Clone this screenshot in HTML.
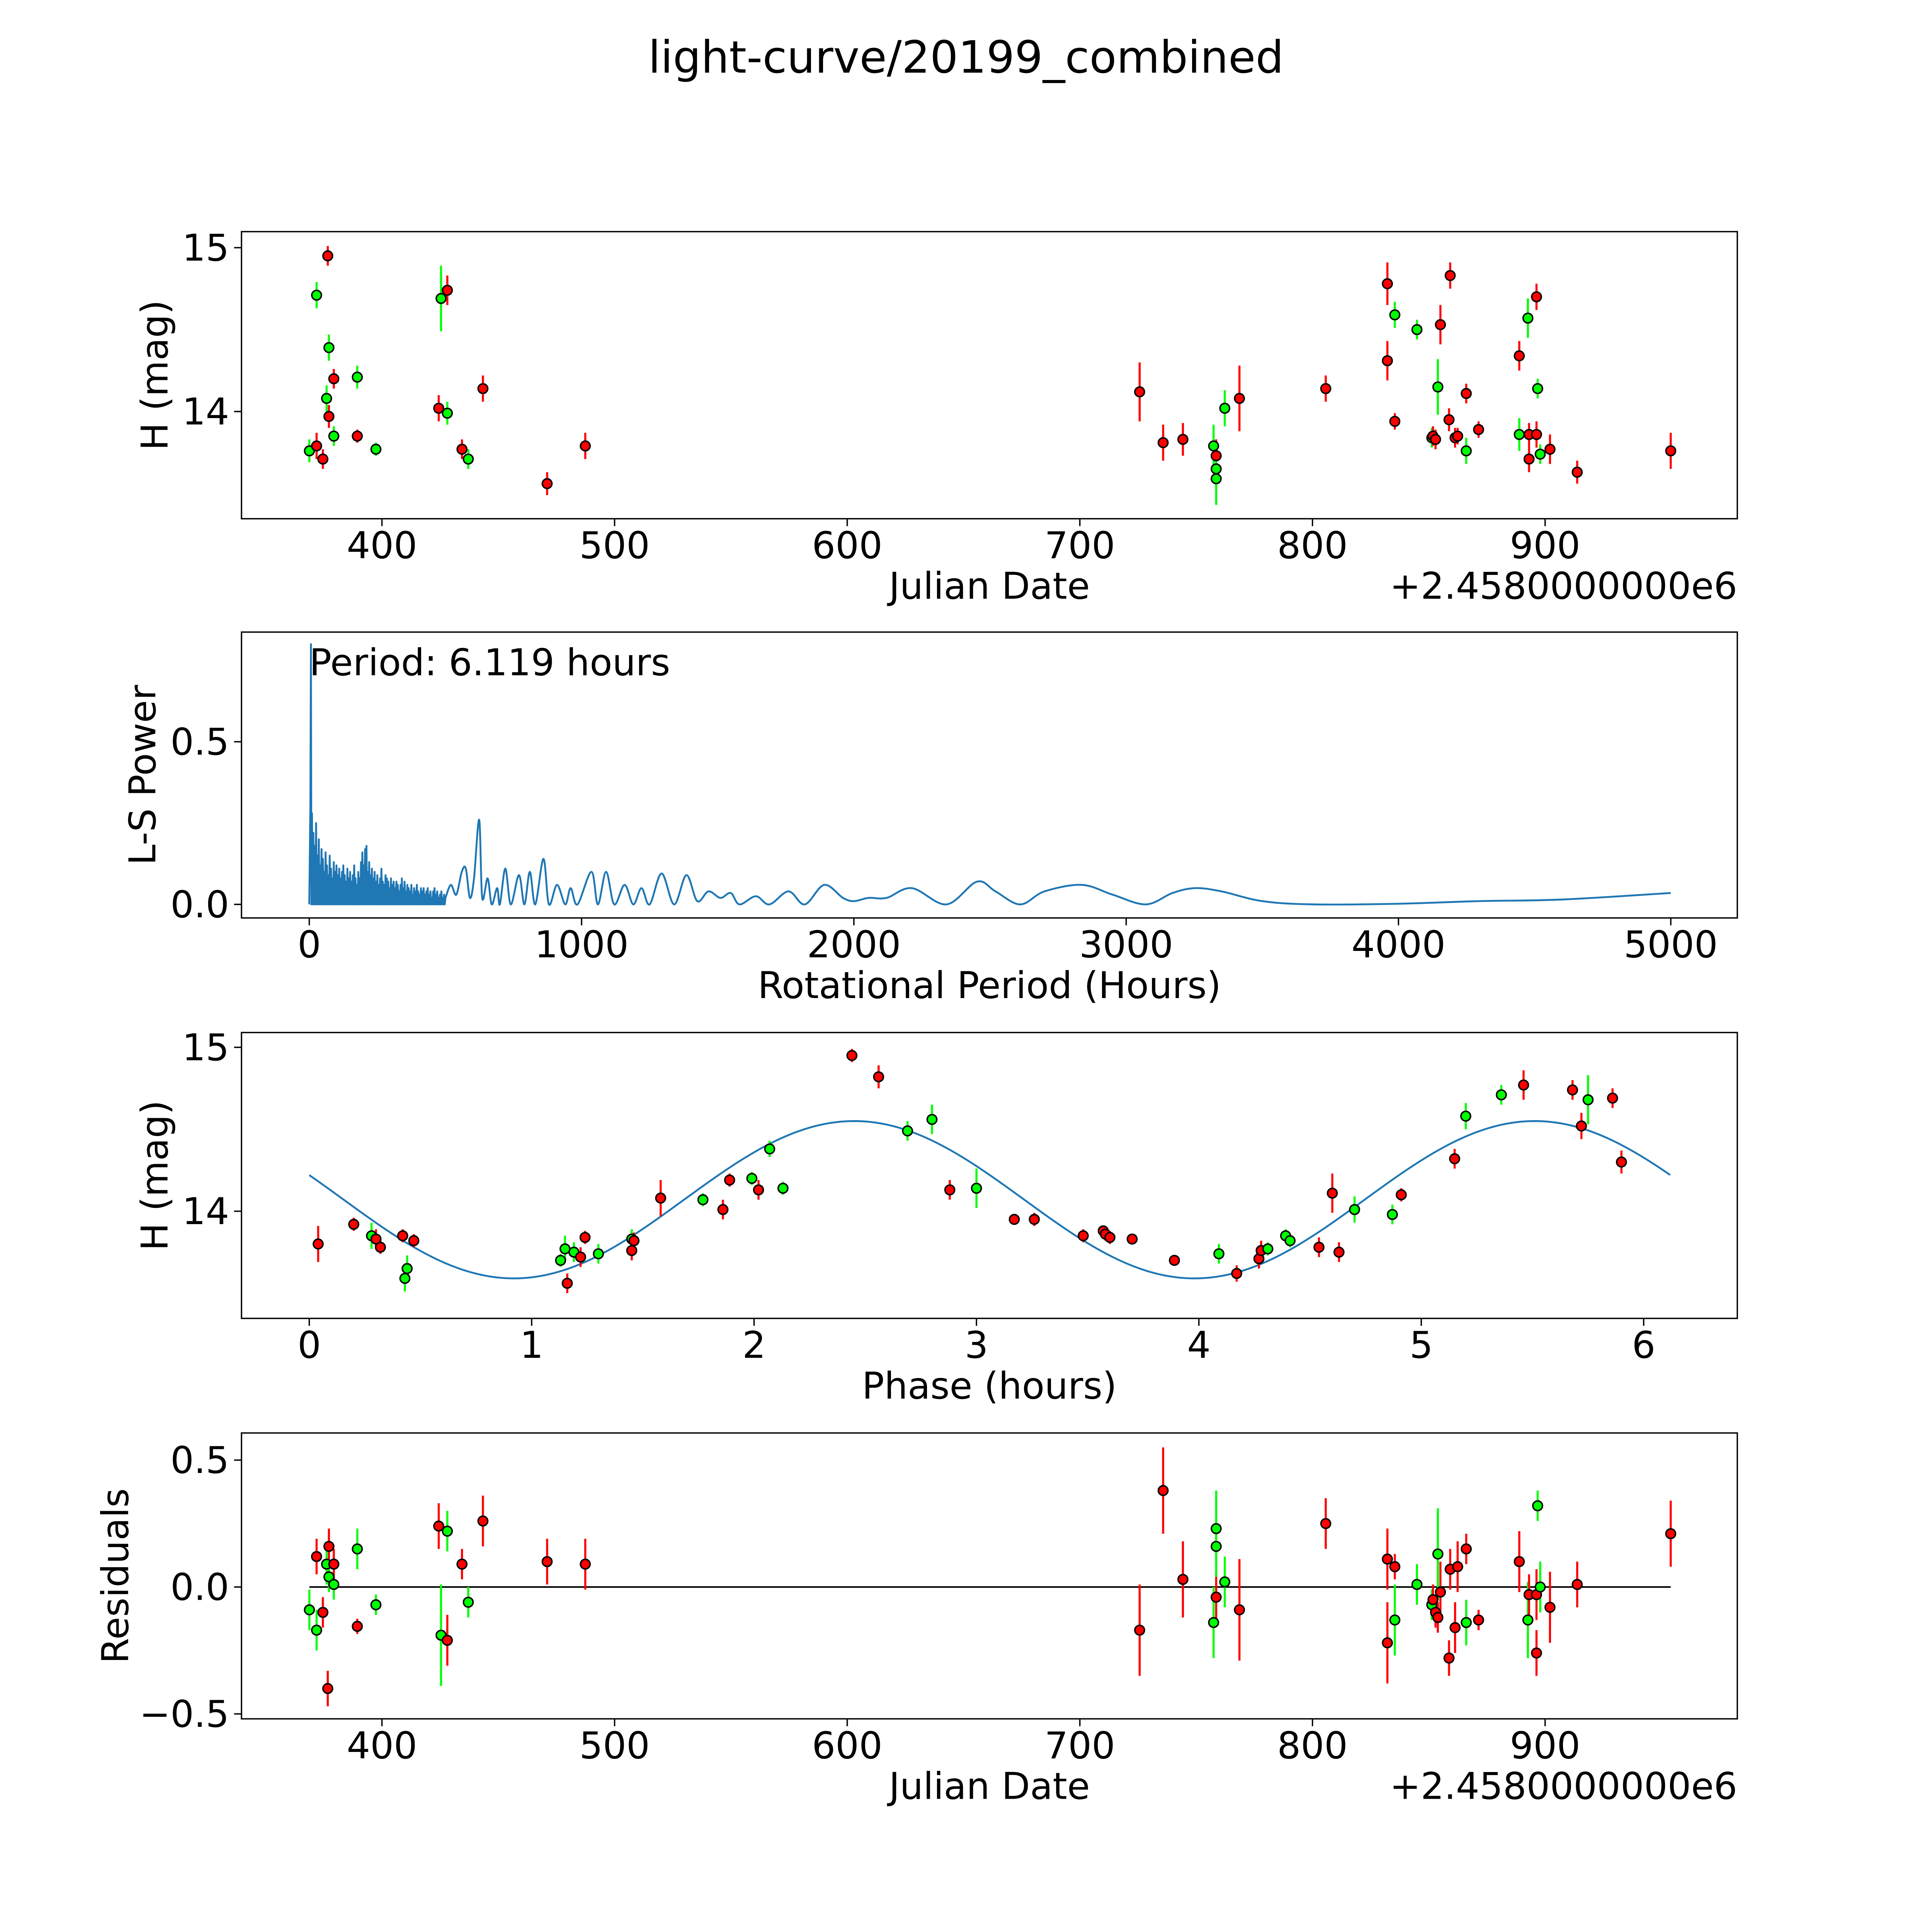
<!DOCTYPE html>
<html><head><meta charset="utf-8"><style>
html,body{margin:0;padding:0;background:#fff;overflow:hidden;width:100vw;height:100vh;}
svg{display:block;width:100vw;height:100vh;}
text{font-family:"DejaVu Sans","Liberation Sans",sans-serif;fill:#000;}
</style></head><body>
<svg id="fig" viewBox="0 0 1568 1568" preserveAspectRatio="xMidYMid meet" xmlns="http://www.w3.org/2000/svg">
<rect width="1568" height="1568" fill="#fff"/>
<text x="784" y="59" font-size="36" text-anchor="middle">light-curve/20199_combined</text>
<g id="g1"></g>
<g id="g2"></g>
<g id="g3"></g>
<g id="g4"></g>
</svg>
<script>
// ---- Panel 1: light curve ----
const lcDates=[368.8,371.9,371.9,374.6,376.7,376.2,377.2,377.2,379.3,379.3,389.4,389.4,397.4,424.4,425.4,428.1,428.1,434.4,437.1,443.4,471.0,487.4,725.7,735.8,744.3,757.5,758.6,758.6,758.6,762.3,768.6,805.7,832.2,832.2,835.4,835.4,844.9,851.3,851.8,852.9,853.9,855.0,858.7,859.2,861.3,862.4,866.1,866.1,871.4,888.9,888.9,892.6,893.1,893.1,896.3,896.3,896.8,897.9,902.1,913.8,954.0];
const lcMags=[13.76,13.79,14.71,13.71,14.95,14.08,13.97,14.39,13.85,14.20,14.21,13.85,13.77,14.02,14.69,13.99,14.74,13.77,13.71,14.14,13.56,13.79,14.12,13.81,13.83,13.79,13.73,13.65,13.59,14.02,14.08,14.14,14.78,14.31,13.94,14.59,14.50,13.84,13.85,13.83,14.15,14.53,13.95,14.83,13.84,13.85,13.76,14.11,13.89,14.34,13.86,14.57,13.86,13.71,14.70,13.86,14.14,13.74,13.77,13.63,13.76];
const lcColors=['g','r','g','r','r','g','r','g','g','r','g','r','g','r','g','g','r','r','g','r','r','r','r','r','r','g','r','g','g','g','r','r','r','r','r','g','g','g','r','r','g','r','r','r','r','r','g','r','r','r','g','g','r','r','r','r','g','g','r','r','r'];
const lcErrs=[0.07,0.08,0.08,0.06,0.06,0.08,0.07,0.08,0.06,0.06,0.07,0.04,0.04,0.08,0.2,0.07,0.09,0.06,0.06,0.08,0.07,0.08,0.18,0.11,0.1,0.13,0.1,0.12,0.16,0.11,0.2,0.08,0.13,0.12,0.05,0.08,0.06,0.06,0.06,0.06,0.17,0.12,0.07,0.08,0.06,0.05,0.08,0.06,0.05,0.09,0.1,0.12,0.07,0.08,0.08,0.08,0.06,0.06,0.09,0.07,0.11];
// ---- Panel 2: periodogram ----
const denseHeights=[0.28,0.22,0.18,0.25,0.15,0.20,0.12,0.17,0.14,0.10,0.16,0.12,0.09,0.15,0.11,0.08,0.13,0.10,0.12,0.09,0.11,0.08,0.10,0.12,0.09,0.07,0.11,0.08,0.10,0.07,0.09,0.12,0.08,0.06,0.10,0.08,0.13,0.16,0.12,0.17,0.18,0.10,0.13,0.09,0.11,0.08,0.10,0.07,0.09,0.06,0.08,0.11,0.07,0.06,0.09,0.08,0.07,0.05,0.08,0.06,0.07,0.05,0.07,0.06,0.04,0.06,0.08,0.05,0.07,0.04,0.06,0.05,0.04,0.06,0.03,0.05,0.04,0.06,0.04,0.03,0.05,0.04,0.05,0.03,0.04,0.05,0.03,0.04,0.02,0.04,0.05,0.03,0.04,0.02,0.03,0.04,0.02,0.03];
const smoothPeriods=[500,520,540,560,575,590,605,624,635,655,670,690,700,720,740,770,790,810,830,860,880,910,940,960,985,1036,1060,1090,1120,1158,1190,1220,1250,1294,1340,1385,1425,1466,1510,1548,1580,1640,1690,1760,1820,1891,1960,2000,2054,2120,2213,2340,2452,2520,2611,2700,2837,2950,3072,3170,3253,3350,3500,3688,4000,4294,4600,5000];
const smoothPower=[0.02,0.06,0.03,0.10,0.11,0.02,0.08,0.26,0.02,0.08,0.0,0.05,0.0,0.11,0.0,0.09,0.0,0.10,0.0,0.14,0.0,0.06,0.0,0.05,0.0,0.10,0.0,0.10,0.0,0.06,0.0,0.05,0.0,0.095,0.0,0.09,0.01,0.04,0.02,0.035,0.0,0.025,0.0,0.04,0.0,0.06,0.02,0.01,0.02,0.02,0.05,0.0,0.07,0.04,0.0,0.04,0.06,0.03,0.0,0.035,0.05,0.04,0.01,0.0,0.002,0.01,0.015,0.035];
const peakPeriod=6.1, peakPower=0.80;
// ---- Panel 3: phase ----
const phX=[0.04,0.20,0.28,0.30,0.32,0.42,0.43,0.44,0.47,1.13,1.15,1.16,1.19,1.22,1.24,1.30,1.45,1.45,1.46,1.58,1.77,1.86,1.89,1.99,2.02,2.07,2.13,2.44,2.56,2.69,2.80,2.88,3.00,3.17,3.26,3.48,3.57,3.58,3.60,3.70,3.89,4.09,4.17,4.27,4.28,4.31,4.39,4.41,4.54,4.60,4.63,4.70,4.87,4.91,5.15,5.20,5.36,5.46,5.68,5.72,5.75,5.86,5.90];
const phMags=[13.80,13.92,13.85,13.83,13.78,13.85,13.59,13.65,13.82,13.70,13.77,13.56,13.75,13.72,13.84,13.74,13.76,13.83,13.82,14.08,14.07,14.01,14.19,14.20,14.13,14.38,14.14,14.95,14.82,14.49,14.56,14.13,14.14,13.95,13.95,13.85,13.88,13.86,13.84,13.83,13.70,13.74,13.62,13.71,13.76,13.77,13.85,13.82,13.78,14.11,13.75,14.01,13.98,14.10,14.32,14.58,14.71,14.77,14.74,14.52,14.68,14.69,14.30];
const phColors=['r','r','g','r','r','r','g','g','r','g','g','r','g','r','r','g','r','g','r','r','g','r','r','g','r','g','g','r','r','g','g','r','g','r','r','r','r','r','r','r','r','g','r','r','r','g','g','g','r','r','r','g','g','r','r','g','g','r','r','r','g','r','r'];
const phErrs=[0.11,0.04,0.08,0.06,0.04,0.04,0.08,0.08,0.04,0.04,0.08,0.06,0.06,0.06,0.04,0.06,0.06,0.06,0.05,0.11,0.04,0.06,0.04,0.04,0.06,0.05,0.04,0.04,0.07,0.06,0.09,0.06,0.12,0.03,0.04,0.04,0.03,0.04,0.04,0.03,0.03,0.06,0.05,0.06,0.06,0.04,0.04,0.04,0.06,0.12,0.06,0.08,0.06,0.04,0.06,0.08,0.06,0.09,0.06,0.08,0.15,0.06,0.07];
const fitMean=[14.07], fitAmp=[0.48], fitPeriod=[3.06], fitPeakPhase=[2.45], fitMaxPhase=[6.119];
// ---- Panel 4: residuals ----
const resDates=[368.8,371.9,371.9,374.6,376.7,376.2,377.2,377.2,379.3,379.3,389.4,389.4,397.4,424.4,425.4,428.1,428.1,434.4,437.1,443.4,471.0,487.4,725.7,735.8,744.3,757.5,758.6,758.6,758.6,762.3,768.6,805.7,832.2,832.2,835.4,835.4,844.9,851.3,851.8,852.9,853.9,855.0,853.9,858.7,859.2,861.3,862.4,866.1,866.1,871.4,888.9,892.6,893.1,896.3,896.3,896.8,897.9,902.1,913.8,954.0];
const resVals=[-0.09,-0.17,0.12,-0.10,-0.40,0.09,0.16,0.04,0.01,0.09,0.15,-0.155,-0.07,0.24,-0.19,0.22,-0.21,0.09,-0.06,0.26,0.10,0.09,-0.17,0.38,0.03,-0.14,-0.04,0.16,0.23,0.02,-0.09,0.25,-0.22,0.11,-0.13,0.08,0.01,-0.07,-0.05,-0.10,0.13,-0.02,-0.12,-0.28,0.07,-0.16,0.08,0.15,-0.14,-0.13,0.10,-0.13,-0.03,-0.26,-0.03,0.32,0.0,-0.08,0.01,0.21];
const resColors=['g','g','r','r','r','g','r','g','g','r','g','r','g','r','g','g','r','r','g','r','r','r','r','r','r','g','r','g','g','g','r','r','r','r','g','r','g','g','r','r','g','r','r','r','r','r','r','r','g','r','r','g','r','r','r','g','g','r','r','r'];
const resErrs=[0.08,0.08,0.07,0.06,0.07,0.08,0.07,0.06,0.06,0.06,0.08,0.03,0.04,0.09,0.2,0.08,0.1,0.06,0.06,0.1,0.09,0.1,0.18,0.17,0.15,0.14,0.1,0.12,0.15,0.1,0.2,0.1,0.16,0.12,0.14,0.05,0.08,0.06,0.06,0.06,0.18,0.12,0.06,0.07,0.08,0.1,0.1,0.06,0.09,0.04,0.12,0.15,0.08,0.09,0.1,0.06,0.1,0.14,0.09,0.13];

const NS='http://www.w3.org/2000/svg';
function el(tag,attrs,parent){const e=document.createElementNS(NS,tag);for(const k in attrs)e.setAttribute(k,attrs[k]);parent.appendChild(e);return e;}
const COL={r:'#ff0000',g:'#00ff00'};
const L=196,R=1410,FS=30;

function axes(g,top,bot,xs,xticks,xlabels,ys,yticks,ylabels,xlabel,ylabel,ylabelX,offset){
  const frame=el('rect',{x:L,y:top,width:R-L,height:bot-top,fill:'none',stroke:'#000','stroke-width':1.1},g);
  
  
  xticks.forEach((v,i)=>{const x=xs(v);
    const t=el('line',{x1:x,x2:x,y1:bot,y2:bot+6,stroke:'#000','stroke-width':1.1},g);
    
    
    const tx=el('text',{x:x,y:bot+32,'font-size':FS,'text-anchor':'middle'},g);tx.textContent=xlabels[i];
    
    });
  yticks.forEach((v,i)=>{const y=ys(v);
    const t=el('line',{x1:L-6,x2:L,y1:y,y2:y,stroke:'#000','stroke-width':1.1},g);
    
    
    const tx=el('text',{x:L-10,y:y+10.5,'font-size':FS,'text-anchor':'end'},g);tx.textContent=ylabels[i];
    
    });
  const xl=el('text',{x:(L+R)/2,y:bot+65,'font-size':FS,'text-anchor':'middle'},g);xl.textContent=xlabel;
  
  
  const cy=(top+bot)/2;
  const yl=el('text',{x:ylabelX,y:cy,'font-size':FS,'text-anchor':'middle',transform:`rotate(-90 ${ylabelX} ${cy})`},g);yl.textContent=ylabel;
  
  
  if(offset){const o=el('text',{x:R,y:bot+65,'font-size':FS,'text-anchor':'end'},g);o.textContent=offset;
    
    }
}
function points(g,xsArr,ysArr,cols,errs,xs,ys){
  xsArr.forEach((v,i)=>{const x=xs(v);const y1=ys(ysArr[i]-errs[i]),y2=ys(ysArr[i]+errs[i]);
    const e=el('line',{x1:x,x2:x,y1:y1,y2:y2,stroke:COL[cols[i]],'stroke-width':1.7},g);
    
    });
  xsArr.forEach((v,i)=>{
    const c=el('circle',{cx:xs(v),cy:ys(ysArr[i]),r:3.9,fill:COL[cols[i]],stroke:'#000','stroke-width':1.2},g);
    
    });
}
const dateX=d=>310+(d-400)*1.888;
const dayTicks=[400,500,600,700,800,900];

// Panel 1
(function(){const g=document.getElementById('g1');const ys=m=>334-(m-14)*133;
 axes(g,188,421,dateX,dayTicks,dayTicks.map(String),ys,[14,15],['14','15'],'Julian Date','H (mag)',136,'+2.4580000000e6');
 points(g,lcDates,lcMags,lcColors,lcErrs,dateX,ys);})();

// Panel 2
(function(){const g=document.getElementById('g2');const xs=h=>251+h*0.221;const ys=p=>734-p*264;
 const xt=[0,1000,2000,3000,4000,5000];
 axes(g,513,745,xs,xt,xt.map(String),ys,[0,0.5],['0.0','0.5'],'Rotational Period (Hours)','L-S Power',126);
 let pts=[[0,0],[4,0.3],[peakPeriod,peakPower],[8,0],[8.5,0.0]];
 denseHeights.forEach((h,i)=>{const p=10+i*5;pts.push([p,h]);pts.push([p+2.5,0]);});
 let d=pts.map((q,i)=>(i?'L':'M')+xs(q[0]).toFixed(2)+','+ys(q[1]).toFixed(2)).join('');
 const sp=smoothPeriods.map((p,i)=>[xs(p),ys(smoothPower[i])]);
 d+='L'+sp[0][0].toFixed(2)+','+sp[0][1].toFixed(2);
 for(let i=0;i<sp.length-1;i++){const p0=sp[Math.max(0,i-1)],p1=sp[i],p2=sp[i+1],p3=sp[Math.min(sp.length-1,i+2)];
   const c1=[p1[0]+(p2[0]-p0[0])/6,p1[1]+(p2[1]-p0[1])/6],c2=[p2[0]-(p3[0]-p1[0])/6,p2[1]-(p3[1]-p1[1])/6];
   d+='C'+c1.map(v=>v.toFixed(2)).join(',')+' '+c2.map(v=>v.toFixed(2)).join(',')+' '+p2.map(v=>v.toFixed(2)).join(',');}
 const pl=el('path',{d:d,fill:'none',stroke:'#1f77b4','stroke-width':1.5,'stroke-linejoin':'round'},g);
 
 
 const t=el('text',{x:251,y:548,'font-size':FS},g);t.textContent='Period: 6.119 hours';
 
 })();

// Panel 3
(function(){const g=document.getElementById('g3');const xs=p=>251+p*180.5;const ys=m=>983-(m-14)*133;
 const xt=[0,1,2,3,4,5,6];
 axes(g,838,1070,xs,xt,xt.map(String),ys,[14,15],['14','15'],'Phase (hours)','H (mag)',136);
 let d='';const N=300;
 for(let i=0;i<=N;i++){const p=fitMaxPhase[0]*i/N;const m=fitMean[0]+fitAmp[0]*Math.cos(2*Math.PI*(p-fitPeakPhase[0])/fitPeriod[0]);d+=(i?'L':'M')+xs(p).toFixed(2)+','+ys(m).toFixed(2);}
 const c=el('path',{d:d,fill:'none',stroke:'#1f77b4','stroke-width':1.5},g);
 
 
 points(g,phX,phMags,phColors,phErrs,xs,ys);})();

// Panel 4
(function(){const g=document.getElementById('g4');const ys=r=>1288-r*206;
 axes(g,1163,1395,dateX,dayTicks,dayTicks.map(String),ys,[-0.5,0,0.5],['\u22120.5','0.0','0.5'],'Julian Date','Residuals',104,'+2.4580000000e6');
 const z=el('line',{x1:dateX(368.8),x2:dateX(954),y1:ys(0),y2:ys(0),stroke:'#000','stroke-width':1.3},g);
 
 
 points(g,resDates,resVals,resColors,resErrs,dateX,ys);})();
</script>
</body></html>
